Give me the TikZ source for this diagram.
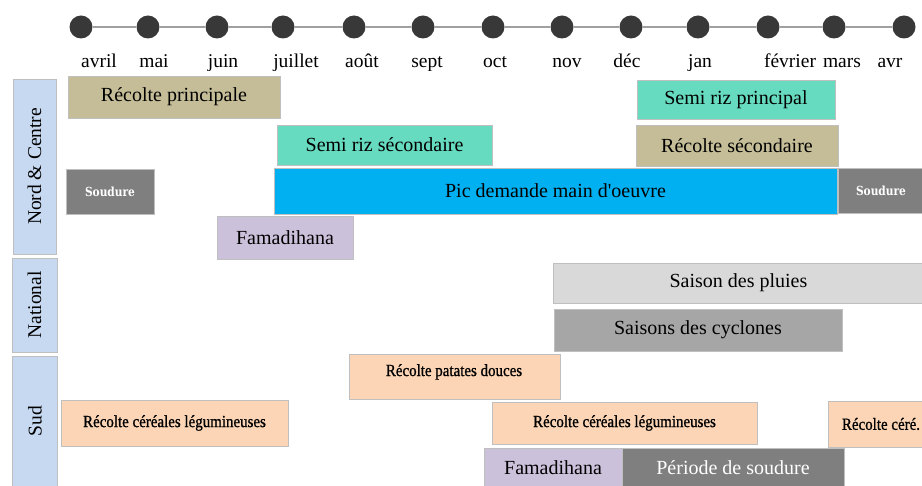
\documentclass[tikz,border=0pt]{standalone}
\usepackage{fontspec}
\setmainfont{Liberation Serif}
\newfontfamily\smallser[FakeStretch=0.88,FakeBold=1]{Liberation Serif}
\newfontfamily\slab[FakeStretch=0.85]{DejaVu Serif}
\newcommand\sq{\ifnum\XeTeXglyphindex "quotesingle" >0 \XeTeXglyph\XeTeXglyphindex "quotesingle" \else'\fi}
\definecolor{ctan}{HTML}{C4BD97}
\definecolor{cteal}{HTML}{66DBC0}
\definecolor{cblue}{HTML}{00B0F0}
\definecolor{cgray}{HTML}{7F7F7F}
\definecolor{clav}{HTML}{CCC1DA}
\definecolor{clgray}{HTML}{D9D9D9}
\definecolor{cmgray}{HTML}{A6A6A6}
\definecolor{cpeach}{HTML}{FBD5B5}
\definecolor{cregion}{HTML}{C6D9F1}
\definecolor{cborder}{HTML}{BFBFBF}
\definecolor{cdot}{HTML}{383838}
\definecolor{cline}{HTML}{A0A0A0}
\newcommand\gbox[7]{\node[box,#6,minimum width={#4pt-#2pt},minimum height={#5pt-#3pt}] (#1) at ({(#2+#4)/2},{(#3+#5)/2}) {#7};}
\begin{document}
\begin{tikzpicture}[x=1pt,y=-1pt,
  box/.style={draw=cborder,line width=0.9pt,inner sep=0pt,font=\fontsize{20}{23}\selectfont},
  mon/.style={anchor=base,font=\fontsize{19.5}{22}\selectfont,inner sep=0pt},
  region/.style={draw=cborder,fill=cregion},
  rtext/.style={rotate=90,font=\fontsize{19.5}{22}\selectfont,inner sep=0pt},
  dot/.style={circle,fill=cdot,minimum size=23pt,inner sep=0pt},
  small/.style={font=\smallser\fontsize{17}{19}\selectfont},
  sd/.style={font=\slab\bfseries\fontsize{12.5}{14}\selectfont,text=white}]
\useasboundingbox (0,0) rectangle (922,486);
\clip (0,0) rectangle (922,486);
% timeline
\foreach \x [count=\i] in {81,148,217,283,354,423,493,562,631,698,768,834,904}
  \node[dot] (d\i) at (\x,27) {};
\foreach \i [evaluate=\i as \j using int(\i+1)] in {1,...,12}
  \draw[cline,line width=1.2pt] (d\i) -- (d\j);
\begin{scope}
\clip (0,40) rectangle (922,70.5);
\foreach \x/\t [count=\i] in {99/avril,154/mai,223/juin,296/juillet,362/août,427/sept,495/oct,567/nov,627/déc,700/jan,790/février,842/mars,890/avr}
  \node[mon] (m\i) at (\x,68) {\t};
\end{scope}
% region labels
\gbox{nc}{13}{79}{56}{254}{region}{}
\node[rtext] (nct) at (nc.center) {Nord \& Centre};
\gbox{na}{12}{258}{57}{352}{region}{}
\node[rtext] (nat) at (na.center) {National};
\gbox{su}{12}{356}{57}{488}{region}{}
\node[rtext] (sut) at (35,421) {Sud};
% Nord & Centre bars
\gbox{rp}{68}{76}{280}{118}{fill=ctan}{Récolte principale}
\gbox{srs}{277}{125}{492}{165}{fill=cteal}{Semi riz sécondaire}
\gbox{sda}{66}{169}{154}{214}{fill=cgray,sd}{Soudure}
\gbox{pic}{274}{168}{837}{214}{fill=cblue}{Pic demande main d\sq oeuvre}
\gbox{fama}{217}{216}{353}{259}{fill=clav}{Famadihana}
\gbox{srp}{637}{80}{835}{119}{fill=cteal}{Semi riz principal}
\gbox{rs}{636}{125}{838}{166}{fill=ctan}{Récolte sécondaire}
\gbox{sdb}{838}{168}{924}{213}{fill=cgray,sd}{Soudure}
% National
\gbox{pluie}{553}{263}{924}{303}{fill=clgray}{Saison des pluies}
\gbox{cyc}{554}{309}{842}{351}{fill=cmgray}{Saisons des cyclones}
% Sud
\gbox{pat}{349}{354}{560}{399}{fill=cpeach}{}
\node[small,anchor=north,inner sep=0pt] (patt) at (454,364) {Récolte patates douces};
\gbox{rca}{61}{400}{288}{446}{fill=cpeach,small}{Récolte céréales légumineuses}
\gbox{rcb}{492}{402}{757}{444}{fill=cpeach,small}{Récolte céréales légumineuses}
\gbox{rcc}{828}{401}{934}{447}{fill=cpeach,small}{Récolte céré.}
\gbox{famb}{484}{448}{622}{488}{fill=clav}{Famadihana}
\gbox{per}{622}{448}{844}{488}{fill=cgray,text=white}{Période de soudure}
\end{tikzpicture}
\end{document}
